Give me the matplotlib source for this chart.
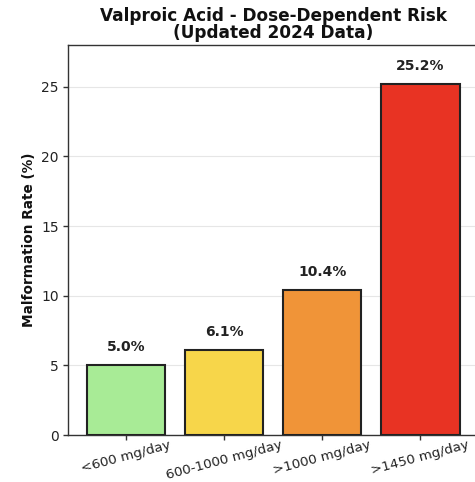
import matplotlib
matplotlib.use("Agg")
import matplotlib.pyplot as plt

categories = ["<600 mg/day", "600-1000 mg/day", ">1000 mg/day", ">1450 mg/day"]
rates = [5.0, 6.1, 10.4, 25.2]
colors = ["#a8eb96", "#f7d64a", "#f09438", "#e83323"]
yticks = [0, 5, 10, 15, 20, 25]

fig = plt.figure(figsize=(4.75, 4.82), dpi=100)
ax = fig.add_axes([0.143, 0.0975, 0.864, 0.8091])

x = list(range(len(categories)))
bars = ax.bar(x, rates, width=0.8, color=colors, edgecolor="#222222", linewidth=1.5, zorder=3)
for xi, v in zip(x, rates):
    ax.text(xi, v + 0.8, f"{v:.1f}%", ha="center", va="bottom", fontsize=10, fontweight="bold", color="#222222")

ax.set_xlim(-0.59, 3.59)
ax.set_ylim(0, 28)
ax.set_yticks(yticks)
ax.set_xticks(x)
ax.set_xticklabels(categories, rotation=15, ha="center", fontsize=9.7, color="#222222")
ax.tick_params(axis="y", labelsize=10, colors="#222222", length=3.5, pad=3)
ax.tick_params(axis="x", length=3.5, pad=-1.2)
ax.tick_params(axis="both", direction="out", width=1, color="#333333")
ax.yaxis.grid(True, color="#e6e6e6", linewidth=0.8, zorder=0)
ax.set_axisbelow(True)
for s in ax.spines.values():
    s.set_color("#333333")
    s.set_linewidth(1.0)
ax.set_ylabel("Malformation Rate (%)", fontsize=9.8, fontweight="bold", color="#111111")
ax.set_title("Valproic Acid - Dose-Dependent Risk\n(Updated 2024 Data)", fontsize=12.2, fontweight="bold", color="#111111", linespacing=0.9, pad=5)

fig.savefig("out.png", dpi=100)
